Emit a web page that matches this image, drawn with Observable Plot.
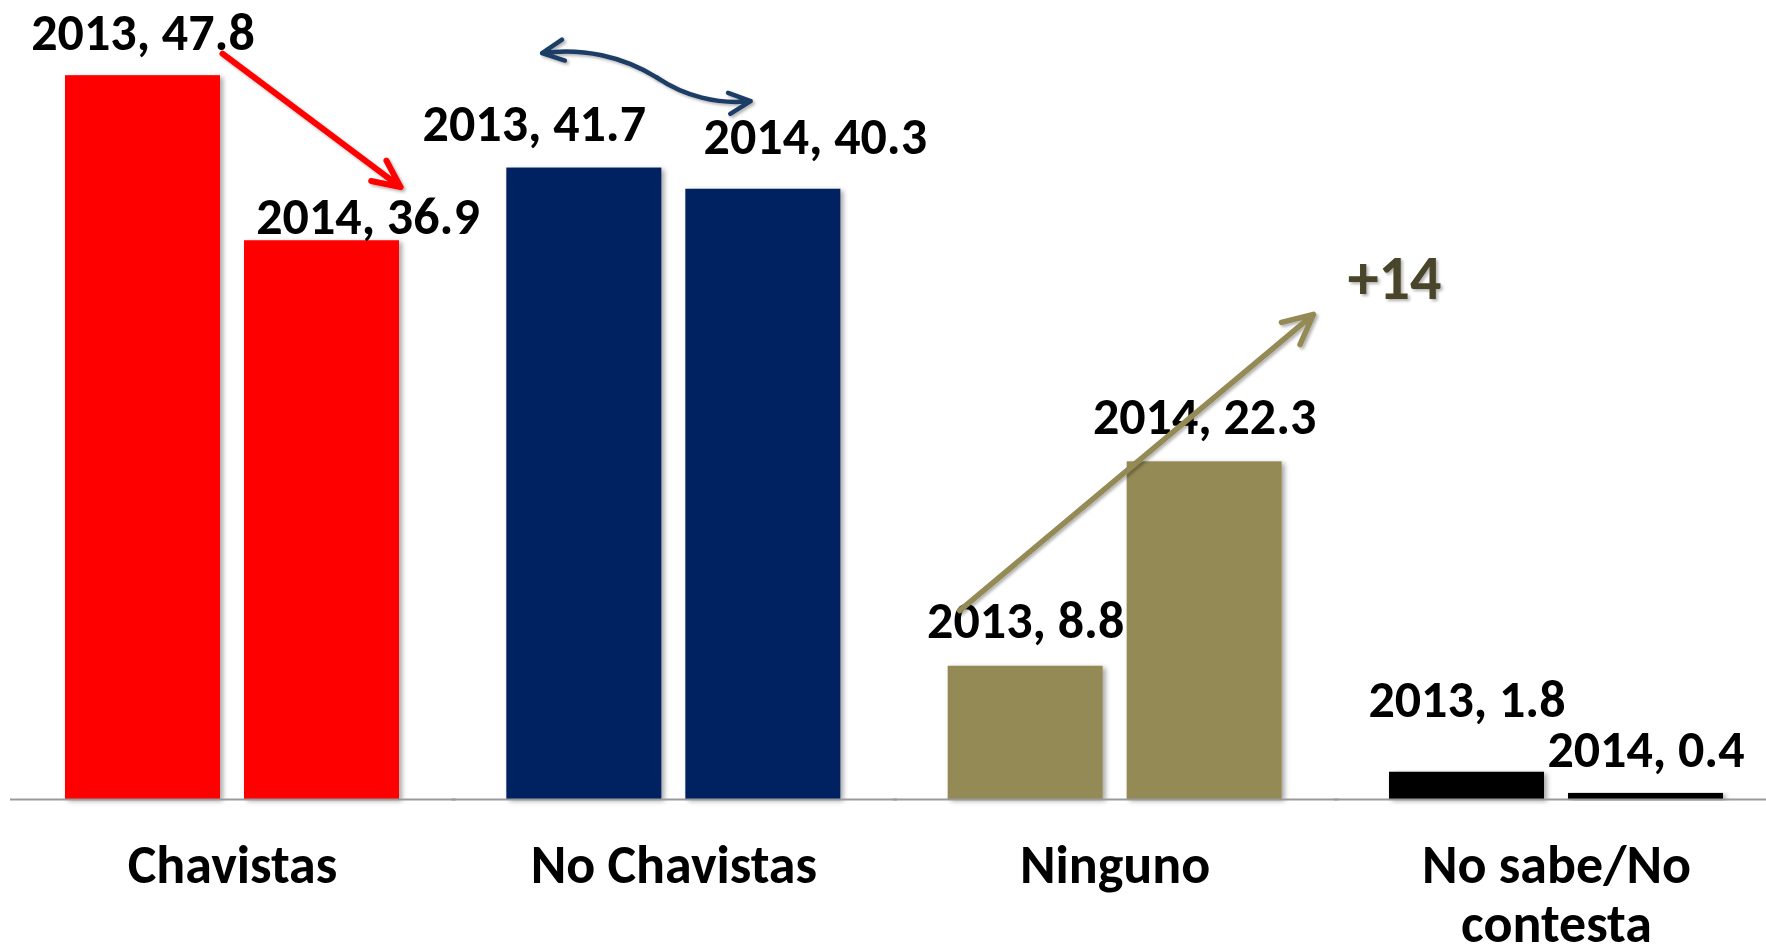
<!DOCTYPE html>
<html>
<head>
<meta charset="utf-8">
<script src="https://cdn.jsdelivr.net/npm/d3@7"></script>
<script src="https://cdn.jsdelivr.net/npm/@observablehq/plot@0.6"></script>
<style>
  html, body { margin: 0; padding: 0; background: #fff; }
  #chart svg { display: block; }
  [aria-label="rect"] rect { filter: url(#barShadow); }
  [aria-label="arrow"] path { filter: url(#lineShadow); }
  .plus text { filter: url(#lineShadow); }
</style>
</head>
<body>
<svg width="0" height="0" style="position:absolute">
  <defs>
    <filter id="barShadow" x="-10%" y="-10%" width="130%" height="130%">
      <feDropShadow dx="3" dy="2" stdDeviation="2.5" flood-color="#000" flood-opacity="0.35"/>
    </filter>
    <filter id="lineShadow" x="-20%" y="-20%" width="140%" height="140%">
      <feDropShadow dx="2" dy="2" stdDeviation="1.5" flood-color="#000" flood-opacity="0.3"/>
    </filter>
  </defs>
</svg>
<div id="chart"></div>
<script>
// ---- data ----
const categories = ["Chavistas", "No Chavistas", "Ninguno", "No sabe/No contesta"];
const years = [2013, 2014];
const values2013 = [47.8, 41.7, 8.8, 1.8];
const values2014 = [36.9, 40.3, 22.3, 0.4];
const colors = ["#FF0000", "#002060", "#948A54", "#000000"];

// value-label nudges in px (2013 / 2014), per category
const labelDx2013 = [0, -50, 0, 0];
const labelDy2013 = [-26, -27, -28, -55];
const labelDx2014 = [46, 52, 0, 0];
const labelDy2014 = [-7, -35, -28, -26];

// annotation arrows, in data units (x = year position inside the group, y = percent)
const arrowRed = [{category: "Chavistas", x1: 2013.944, y1: 49.25, x2: 2014.939, y2: 40.44}];
const arrowBlueLeft = [{category: "No Chavistas", x1: 2013.906, y1: 47.67, x2: 2013.264, y2: 49.29}];
const arrowBlueRight = [{category: "No Chavistas", x1: 2013.906, y1: 47.67, x2: 2014.429, y2: 46.12}];
const arrowOlive = [{category: "Ninguno", x1: 2013.131, y1: 12.48, x2: 2015.108, y2: 32.03}];
const changeNote = [{category: "Ninguno", x: 2015.561, y: 33.06, text: "+14"}];

// ---- table built from the arrays ----
const valuesByYear = [values2013, values2014];
const rows = categories.flatMap((c, i) => years.map((yr, j) => ({
  category: c, year: yr, value: valuesByYear[j][i],
  dx: (j === 0 ? labelDx2013 : labelDx2014)[i],
  dy: (j === 0 ? labelDy2013 : labelDy2014)[i]
})));

const font = "Carlito, Lato, 'Open Sans', sans-serif";

const valueLabels = rows.map(r => Plot.text([r], {
  fx: "category",
  x: d => d.year + 0.5,
  y: "value",
  text: d => `${d.year}, ${d.value}`,
  lineAnchor: "bottom",
  fontSize: 52,
  fontWeight: "bold",
  fill: "#000",
  dx: r.dx,
  dy: r.dy
}));

const chart = Plot.plot({
  width: 1766,
  height: 952,
  marginLeft: 53,
  marginRight: 31,
  marginTop: 4,
  marginBottom: 153,
  fx: {domain: categories, paddingInner: 0.1888, paddingOuter: 0, round: false, axis: null, label: null},
  x: {domain: [2013, 2015], axis: null},
  y: {domain: [0, 52.5], axis: null},
  color: {domain: categories, range: colors},
  style: {fontFamily: font, background: "#fff", overflow: "hidden"},
  marks: [
    Plot.rectY(rows, {
      fx: "category",
      x1: "year",
      x2: d => d.year + 1,
      y: "value",
      fill: "category",
      insetLeft: 12,
      insetRight: 12
    }),
    Plot.ruleY([0], {x1: 2012.76, x2: 2015.25, stroke: "#9a9a9a", strokeWidth: 2}),
    ...valueLabels,
    Plot.text(categories, {
      fx: d => d,
      x: 2014,
      y: 0,
      text: d => d,
      lineWidth: 7,
      lineHeight: 1.1,
      lineAnchor: "top",
      dy: 41,
      fontSize: 54,
      fontWeight: "bold",
      fill: "#000"
    }),
    Plot.arrow(arrowRed, {
      fx: "category", x1: "x1", y1: "y1", x2: "x2", y2: "y2",
      stroke: "#FF0000", strokeWidth: 6, headLength: 7.5, headAngle: 50,
      strokeLinecap: "round", strokeLinejoin: "round"
    }),
    Plot.arrow(arrowBlueLeft, {
      fx: "category", x1: "x1", y1: "y1", x2: "x2", y2: "y2",
      stroke: "#1f3c66", strokeWidth: 4.5, headLength: 8, headAngle: 52, bend: -20,
      strokeLinecap: "round", strokeLinejoin: "round"
    }),
    Plot.arrow(arrowBlueRight, {
      fx: "category", x1: "x1", y1: "y1", x2: "x2", y2: "y2",
      stroke: "#1f3c66", strokeWidth: 4.5, headLength: 8, headAngle: 52, bend: -20,
      strokeLinecap: "round", strokeLinejoin: "round"
    }),
    Plot.arrow(arrowOlive, {
      fx: "category", x1: "x1", y1: "y1", x2: "x2", y2: "y2",
      stroke: "#948A54", strokeWidth: 5.5, headLength: 9, headAngle: 52,
      strokeLinecap: "round", strokeLinejoin: "round"
    }),
    Plot.text(changeNote, {
      fx: "category", x: "x", y: "y", text: "text",
      lineAnchor: "bottom", fontSize: 62, fontWeight: "bold", fill: "#4a452a",
      className: "plus"
    })
  ]
});

document.getElementById("chart").appendChild(chart);
</script>
</body>
</html>
